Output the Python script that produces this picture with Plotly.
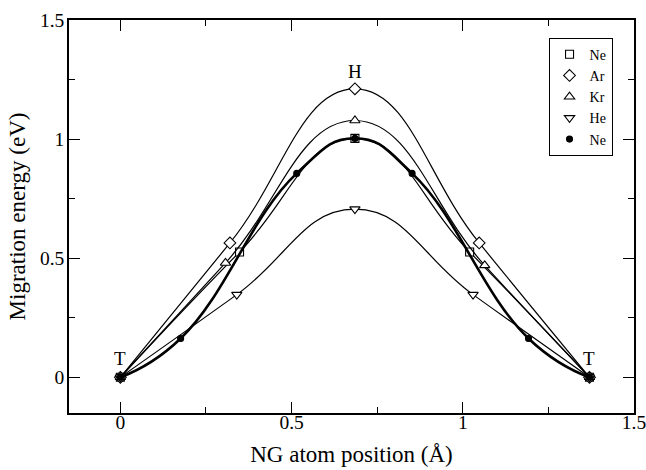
import plotly.graph_objects as go

# ---- data ----
ne_sq_x = [0.0, 0.348, 0.685, 1.020, 1.370]
ne_sq_y = [0.0, 0.526, 1.003, 0.526, 0.0]

ar_x = [0.0, 0.320, 0.685, 1.048, 1.370]
ar_y = [0.0, 0.564, 1.211, 0.564, 0.0]

kr_x = [0.0, 0.307, 0.685, 1.064, 1.370]
kr_y = [0.0, 0.480, 1.078, 0.470, 0.0]

he_x = [0.0, 0.340, 0.685, 1.030, 1.370]
he_y = [0.0, 0.347, 0.706, 0.347, 0.0]

ne_dot_x = [0.0, 0.176, 0.515, 0.685, 0.852, 1.192, 1.370]
ne_dot_y = [0.0, 0.163, 0.856, 1.003, 0.856, 0.163, 0.0]

tick_vals = [0, 0.5, 1, 1.5]
tick_text = ["0", "0.5", "1", "1.5"]

labels = [("T", 0.0, 0.08), ("H", 0.685, 1.285), ("T", 1.37, 0.08)]

FONT = "Liberation Serif"

series = [
    ("Ne", ne_sq_x, ne_sq_y, "square", 8, "white", 1.2),
    ("Ar", ar_x, ar_y, "diamond", 9, "white", 1.2),
    ("Kr", kr_x, kr_y, "triangle-up", 9, "white", 1.2),
    ("He", he_x, he_y, "triangle-down", 9, "white", 1.2),
    ("Ne", ne_dot_x, ne_dot_y, "circle", 6, "black", 2.6),
]

fig = go.Figure()
for name, xs, ys, sym, size, fill, lw in series:
    fig.add_trace(go.Scatter(
        x=xs, y=ys, mode="lines+markers", name=name,
        line=dict(color="black", width=lw, shape="spline", smoothing=1.3),
        marker=dict(symbol=sym, size=size, color=fill,
                    line=dict(color="black", width=1.1)),
        showlegend=False,
    ))
# legend entries (markers only, as in the reference)
for name, xs, ys, sym, size, fill, lw in series:
    fig.add_trace(go.Scatter(
        x=[None], y=[None], mode="markers", name=name,
        marker=dict(symbol=sym, size=size, color=fill,
                    line=dict(color="black", width=1.1)),
        showlegend=True,
    ))

for txt, lx, ly in labels:
    fig.add_annotation(x=lx, y=ly, text=txt, showarrow=False,
                       font=dict(family=FONT, size=19, color="black"))

axis_common = dict(
    showline=True, linecolor="black", linewidth=1.6, mirror="ticks",
    ticks="inside", ticklen=11, tickwidth=1.2, tickcolor="black",
    tickvals=tick_vals, ticktext=tick_text,
    minor=dict(ticks="inside", ticklen=6, tickwidth=1.2, tickcolor="black", dtick=0.25, showgrid=False),
    showgrid=False, zeroline=False, automargin=False,
    ticklabeloverflow="allow",
    tickfont=dict(family=FONT, size=19.5, color="black"),
)

fig.update_xaxes(range=[-0.15, 1.5], **axis_common, ticklabelstandoff=-9,
                 title=dict(text="NG atom position (Å)", font=dict(family=FONT, size=23, color="black"), standoff=14))
fig.update_yaxes(range=[-0.15, 1.5], **axis_common, ticklabelstandoff=-1,
                 title=dict(text="Migration energy (eV)", font=dict(family=FONT, size=23, color="black"), standoff=8))

fig.update_layout(
    width=646, height=470,
    margin=dict(l=69, r=12, t=20, b=57),
    plot_bgcolor="white", paper_bgcolor="white",
    legend=dict(x=0.962, y=0.955, xanchor="right", yanchor="top",
                bordercolor="black", borderwidth=1, bgcolor="white",
                font=dict(family=FONT, size=14, color="black"),
                itemwidth=30, tracegroupgap=0, itemsizing="trace"),
)

fig.write_html("out.html", config={"displayModeBar": False},
               post_script="document.body.style.margin='0';document.body.style.overflow='hidden';")
